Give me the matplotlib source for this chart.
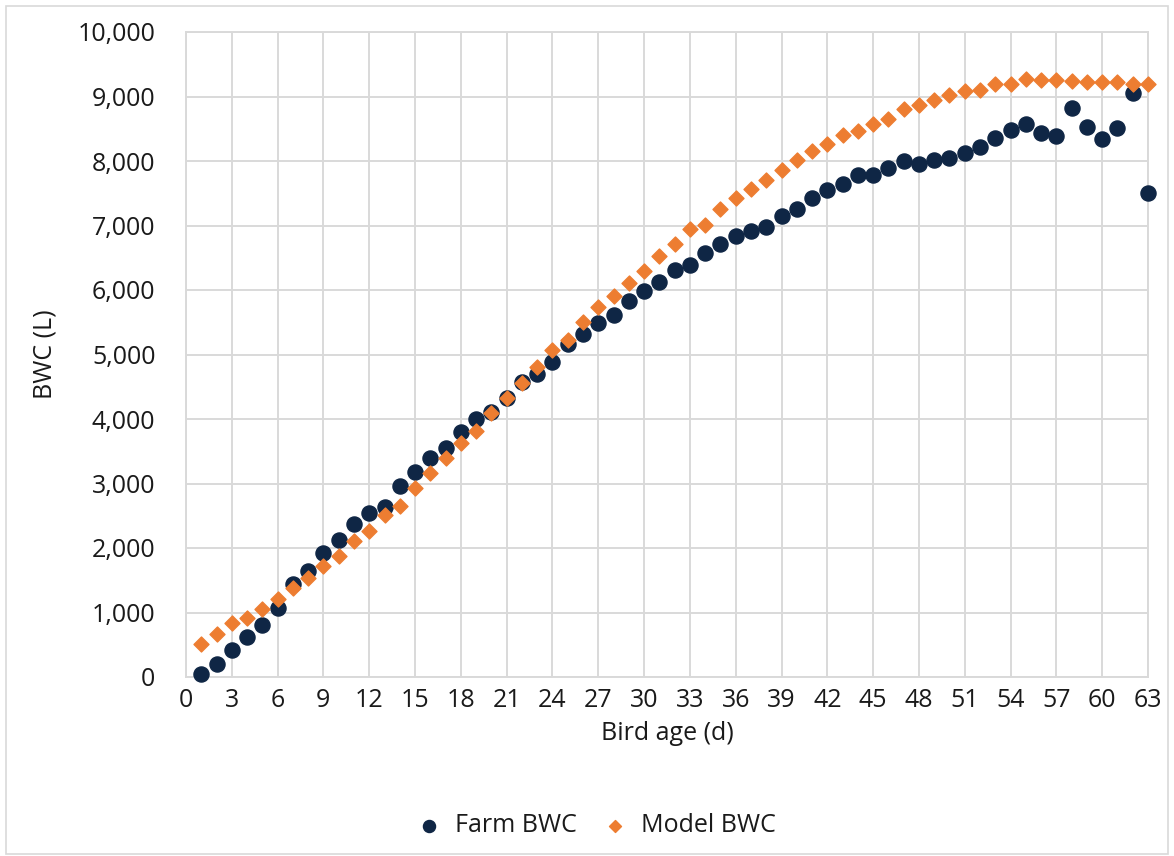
import matplotlib
matplotlib.use("Agg")
import matplotlib.pyplot as plt
from matplotlib.patches import Rectangle

# Bird age (d) and bulk water consumption (L)
days = list(range(1, 64))
farm_bwc = [50, 200, 420, 620, 800, 1070, 1440, 1640, 1920, 2120,
            2370, 2540, 2630, 2965, 3180, 3395, 3550, 3805, 3995, 4110,
            4330, 4570, 4700, 4890, 5160, 5320, 5490, 5620, 5830, 5990,
            6130, 6305, 6390, 6570, 6710, 6840, 6910, 6980, 7150, 7250,
            7430, 7550, 7640, 7780, 7790, 7895, 8000, 7950, 8015, 8045,
            8120, 8210, 8350, 8480, 8570, 8440, 8390, 8820, 8530, 8340,
            8510, 9050, 7500]
model_bwc = [510, 670, 840, 910, 1060, 1210, 1380, 1530, 1720, 1880,
             2110, 2260, 2510, 2650, 2930, 3170, 3400, 3630, 3820, 4100,
             4330, 4555, 4800, 5070, 5220, 5510, 5740, 5900, 6110, 6290,
             6525, 6710, 6940, 7010, 7260, 7420, 7560, 7710, 7860, 8020,
             8150, 8260, 8410, 8470, 8570, 8650, 8800, 8870, 8945, 9020,
             9090, 9100, 9190, 9200, 9270, 9250, 9250, 9240, 9230, 9230,
             9220, 9200, 9190]
x_ticks = list(range(0, 64, 3))
y_ticks = list(range(0, 10001, 1000))

FONT = "Open Sans"
FS = 18
plt.rcParams["font.family"] = [FONT, "DejaVu Sans"]

fig = plt.figure(figsize=(11.74, 8.56), dpi=100)
ax = fig.add_axes([186 / 1174, 1 - 677 / 856, (1148 - 186) / 1174, (677 - 32) / 856])

grid_c = "#d9d9d9"
ax.set_xlim(0, 63)
ax.set_ylim(0, 10000)
ax.set_xticks(x_ticks)
ax.set_yticks(y_ticks)
ax.set_yticklabels([f"{v:,}" for v in y_ticks])
ax.grid(True, color=grid_c, lw=1.4)
ax.set_axisbelow(True)
for s in ax.spines.values():
    s.set_color(grid_c)
    s.set_linewidth(1.4)
ax.tick_params(length=0, labelsize=FS, colors="#1a1a1a", pad=8)
ax.tick_params(axis="y", pad=22)

ax.scatter(days, farm_bwc, s=118, marker="o", color="#0f2645",
           edgecolors="#0f2645", zorder=3, clip_on=False, label="Farm BWC")
ax.scatter(days, model_bwc, s=58, marker="D", color="#ed7d31",
           edgecolors="#ed7d31", zorder=3, clip_on=False, label="Model BWC")

ax.set_xlabel("Bird age (d)", fontsize=FS, color="#1a1a1a", labelpad=6)
ax.set_ylabel("BWC (L)", fontsize=FS, color="#1a1a1a")
ax.yaxis.set_label_coords((57 - 186) / 962, 0.5)

leg = fig.legend(loc="center", bbox_to_anchor=(590 / 1174, 1 - 826 / 856), ncol=2,
                 frameon=False, fontsize=FS, handletextpad=0.05, columnspacing=0.5,
                 markerscale=0.8)
for t in leg.get_texts():
    t.set_color("#1a1a1a")

fig.patches.append(Rectangle((6 / 1174, 2 / 856), 1 - 12 / 1174, 1 - 8 / 856,
                             transform=fig.transFigure, fill=False,
                             edgecolor="#d9d9d9", lw=1.2))

fig.savefig("out.png", dpi=100)
